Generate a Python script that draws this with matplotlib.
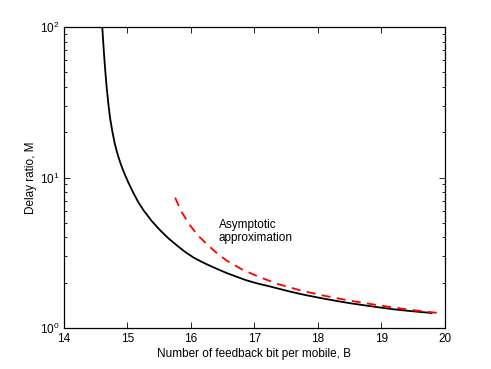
import matplotlib
matplotlib.use("Agg")
import matplotlib.pyplot as plt
from matplotlib.ticker import LogLocator, NullFormatter

plt.rcParams['font.family'] = ['Liberation Sans', 'DejaVu Sans']
plt.rcParams['mathtext.fontset'] = 'custom'
plt.rcParams['mathtext.rm'] = 'Liberation Sans'

# exact delay ratio
black_B = [14.603, 14.618, 14.634, 14.652, 14.672, 14.696, 14.724, 14.760, 14.800, 14.830,
           14.865, 14.898, 14.934, 14.970, 15.010, 15.090, 15.170, 15.250, 15.380, 15.510,
           15.640, 15.770, 15.900, 16.040, 16.170, 16.300, 16.430, 16.560, 16.720, 16.880,
           17.060, 17.240, 17.420, 17.600, 17.800, 18.030, 18.250, 18.500, 18.740, 18.980,
           19.200, 19.400, 19.600, 19.790]
black_M = [100, 79.4, 63.1, 50.1, 39.8, 31.6, 25.1, 20.4, 16.8, 15.0,
           13.37, 12.16, 11.09, 10.19, 9.33, 7.94, 6.86, 6.08, 5.15, 4.48,
           3.96, 3.56, 3.22, 2.94, 2.75, 2.59, 2.45, 2.32, 2.19, 2.07,
           1.97, 1.89, 1.807, 1.730, 1.656, 1.585, 1.524, 1.462, 1.413, 1.368,
           1.330, 1.303, 1.279, 1.259]

# asymptotic approximation
red_B = [15.75, 15.85, 15.98, 16.12, 16.28, 16.42, 16.56, 16.82, 17.09, 17.37,
         17.70, 18.03, 18.50, 18.98, 19.40, 19.88]
red_M = [7.34, 5.93, 4.83, 4.08, 3.51, 3.11, 2.81, 2.43, 2.17, 1.96,
         1.79, 1.66, 1.52, 1.41, 1.33, 1.26]

fig = plt.figure(figsize=(4.91, 3.69), dpi=100)
ax = fig.add_axes([0.1303, 0.1111, 0.776, 0.8157])

ax.plot(black_B, black_M, color='black', lw=1.3)
ax.plot(red_B, red_M, color='red', lw=1.3, dashes=(5, 3.5))

ax.set_yscale('log')
ax.set_xlim(14, 20)
ax.set_ylim(1, 100)
ax.set_xticks([14, 15, 16, 17, 18, 19, 20])
ax.yaxis.set_minor_locator(LogLocator(base=10, subs=range(2, 10)))
ax.yaxis.set_minor_formatter(NullFormatter())

ax.tick_params(which='both', direction='in', top=True, right=True, labelsize=8.5)
ax.tick_params(which='major', length=4, width=0.6)
ax.tick_params(which='minor', length=2.5, width=0.6)
for s in ax.spines.values():
    s.set_linewidth(0.9)

ax.text(16.44, 4.38, "Asymptotic\napproximation", fontsize=8.5, ha='left', va='center',
        linespacing=1.15)

ax.set_xlabel("Number of feedback bit per mobile, B", fontsize=8.5, labelpad=2)
ax.set_ylabel("Delay ratio, M", fontsize=8.5, labelpad=2)

fig.savefig("out.png", dpi=100)
